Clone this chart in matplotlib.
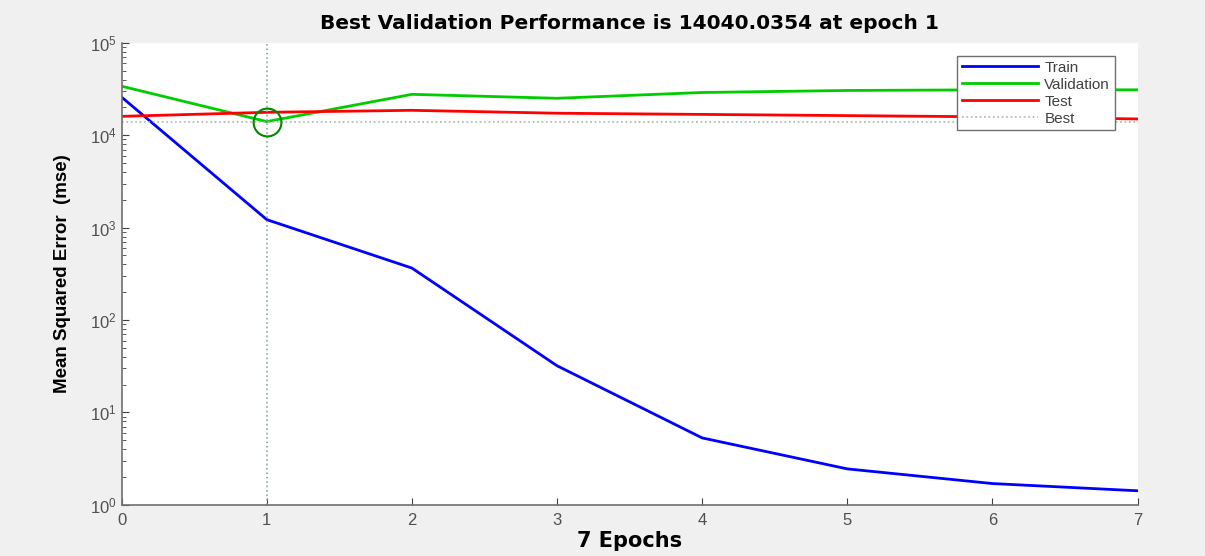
import matplotlib
matplotlib.use("Agg")
import matplotlib.pyplot as plt
import numpy as np

# Werte
epochs = [0, 1, 2, 3, 4, 5, 6, 7]
train = [25800, 1220, 365, 32, 5.3, 2.45, 1.7, 1.42]
validation = [33900, 14040.0354, 27700, 25100, 29000, 30500, 31000, 31000]
test = [16000, 17700, 18600, 17300, 16800, 16300, 15800, 15000]
best_epoch = 1
best_perf = 14040.0354

plt.rcParams['font.family'] = ['Liberation Sans', 'DejaVu Sans']

fig = plt.figure(figsize=(12.05, 5.56), dpi=100, facecolor='#f0f0f0')
ax = fig.add_axes([0.101, 0.092, 0.843, 0.831])
ax.set_facecolor('white')

ax.plot(epochs, train, color='#0000ff', lw=2, label='Train')
ax.plot(epochs, validation, color='#00cc00', lw=2, label='Validation')
ax.plot(epochs, test, color='#ff0000', lw=2, label='Test')
ax.axhline(best_perf, color='#a8b8a8', lw=1.2, ls=':', label='Best')
ax.axvline(best_epoch, color='#88aaaa', lw=1.2, ls=':')
ax.plot([best_epoch], [best_perf], 'o', ms=20, mfc='none', mec='#008800', mew=1.5)

ax.set_yscale('log')
ax.set_xlim(0, 7)
ax.set_ylim(1, 1e5)
ax.set_xticks(epochs)

for s in ['top', 'right']:
    ax.spines[s].set_visible(False)
for s in ['left', 'bottom']:
    ax.spines[s].set_color('#707070')
    ax.spines[s].set_linewidth(1.2)
ax.tick_params(which='both', direction='in', colors='#404040', labelsize=12)
ax.tick_params(which='major', length=5)
ax.tick_params(which='minor', length=3)
ax.tick_params(axis='both', labelcolor='#505050')
ax.tick_params(axis='x', pad=6)

ax.set_title('Best Validation Performance is 14040.0354 at epoch 1',
             fontsize=14.5, fontweight='bold', pad=10, family=['DejaVu Sans'])
ax.set_xlabel('7 Epochs', fontsize=15, fontweight='bold', labelpad=2, family=['DejaVu Sans'])
ax.set_ylabel('Mean Squared Error  (mse)', fontsize=13.5, fontweight='bold', labelpad=14)

leg = ax.legend(loc='upper right', bbox_to_anchor=(0.985, 0.988), fontsize=11,
                handlelength=5.0, handletextpad=0.4, labelspacing=0.2,
                borderpad=0.3, fancybox=False, framealpha=1)
leg.get_frame().set_edgecolor('#707070')
for t in leg.get_texts():
    t.set_color('#404040')

fig.savefig('out.png', dpi=100, facecolor=fig.get_facecolor())
